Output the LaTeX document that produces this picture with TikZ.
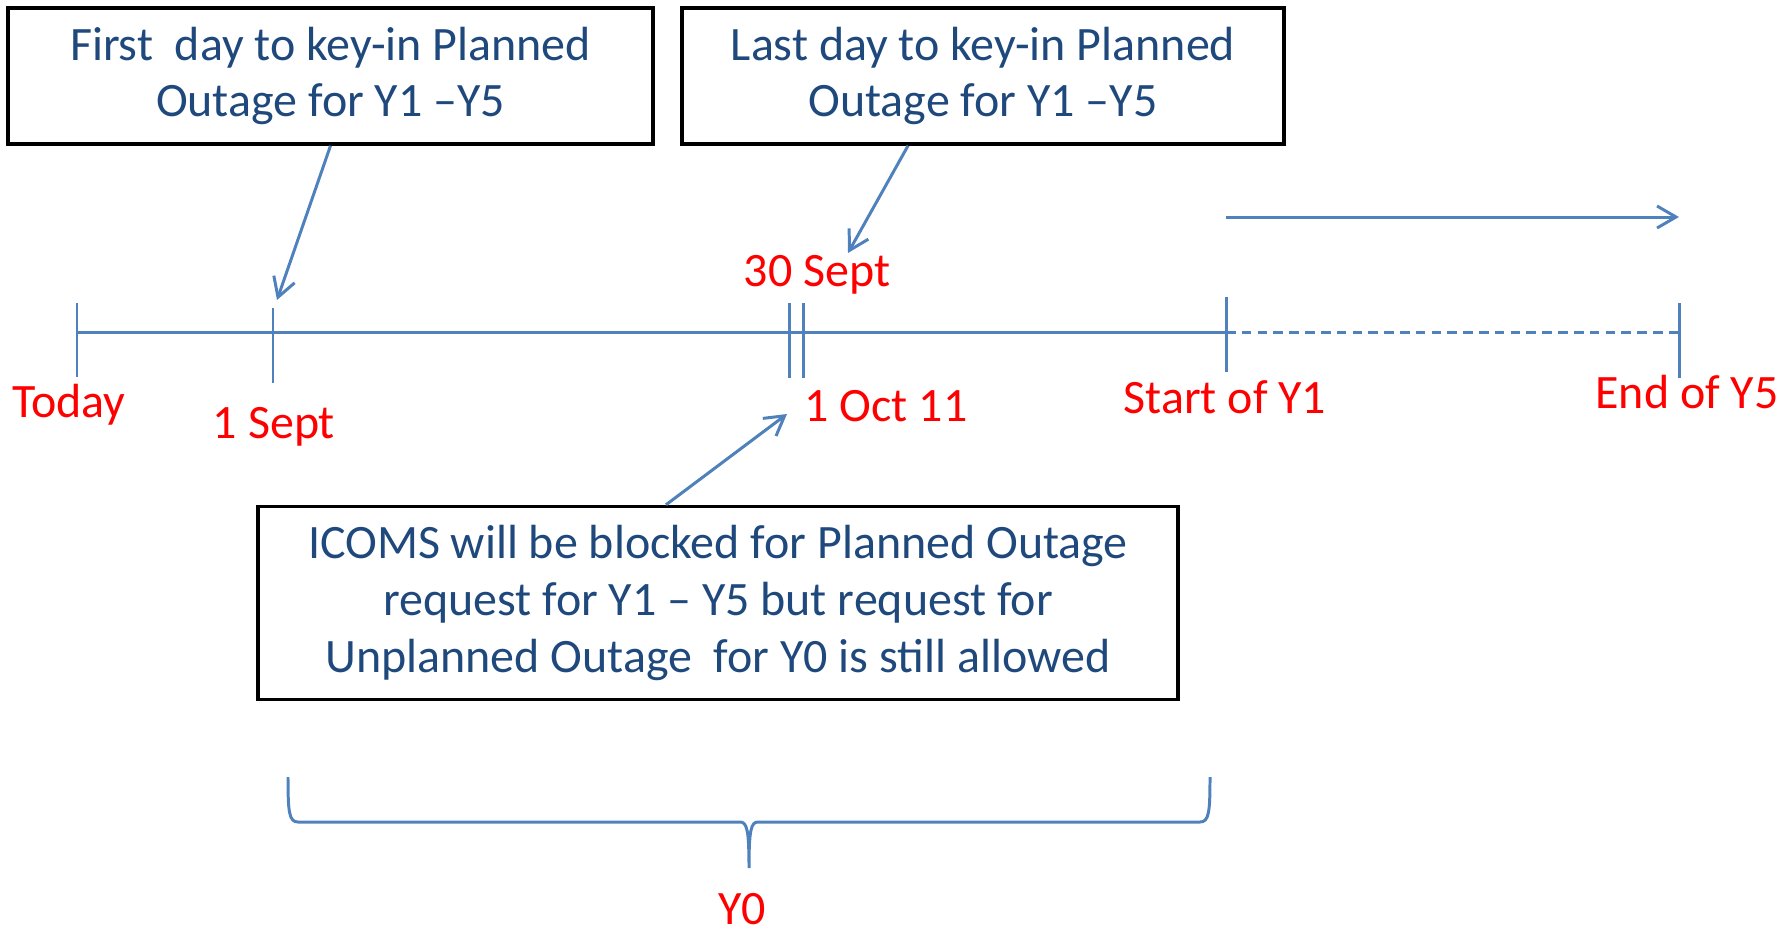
\documentclass[tikz,border=0pt]{standalone}
\usepackage{fontspec}
\setmainfont{Carlito}
\usetikzlibrary{arrows.meta,calc}

\definecolor{lineblue}{RGB}{79,129,189}
\definecolor{textblue}{RGB}{31,73,125}

\begin{document}
\begin{tikzpicture}[
    x=0.02cm, y=-0.02cm,
    note/.style={draw=black, line width=2pt, text=textblue, align=center, inner sep=0pt, font=\fontsize{27.3}{32.3}\selectfont},
    axis/.style={draw=lineblue, line width=1.7pt},
    pointer/.style={draw=lineblue, line width=1.7pt, -{Straight Barb[length=3.8mm,width=4.4mm]}},
    datelabel/.style={text=red, anchor=base, inner sep=0pt, font=\fontsize{27.3}{32.3}\selectfont}
]
\useasboundingbox (0,0) rectangle (1791,937);

% Define notes
\node[note, minimum width=12.9cm, minimum height=2.72cm] (first) at (330.5,76) {First\ \ day to key-in Planned\\Outage for Y1 --Y5};
\node[note, minimum width=12.04cm, minimum height=2.72cm] (last) at (983,76) {Last day to key-in Planned\\Outage for Y1 --Y5};
\node[note, minimum width=18.4cm, minimum height=3.86cm] (blocked) at (718,603) {ICOMS will be blocked for Planned Outage\\request for Y1 -- Y5 but request for\\Unplanned Outage\ \ for Y0 is still allowed};

% Define time points
\coordinate (today) at (77,332);
\coordinate (sept1) at (273,332);
\coordinate (sept30) at (789,332);
\coordinate (oct1) at (803,332);
\coordinate (starty1) at (1226,332);
\coordinate (endy5) at (1679,332);

% Time line and ticks
\draw[axis] (today) -- (starty1);
\draw[axis, dash pattern=on 5.5pt off 3.5pt] (starty1) -- (endy5);
\draw[axis] (77,303) -- (77,377);
\draw[axis] (273,308) -- (273,383);
\draw[axis] (789,303) -- (789,378);
\draw[axis] (803,303) -- (803,378);
\draw[axis] (1226,297) -- (1226,372);
\draw[axis] (1679,303) -- (1679,378);

% Date labels
\node[datelabel] (todaylbl) at (69,417) {Today};
\node[datelabel] (sept1lbl) at (274,438) {1 Sept};
\node[datelabel] (sept30lbl) at (817,286) {30 Sept};
\node[datelabel] (oct1lbl) at (886,421) {1 Oct 11};
\node[datelabel] (y1lbl) at (1225,413) {Start of Y1};
\node[datelabel] (y5lbl) at (1687,408) {End of Y5};

% Pointers from notes
\coordinate (firsttip) at (277,300);
\coordinate (lasttip) at (848,253);
\coordinate (blockedtip) at (787,414);
\draw[pointer] (first.south) -- (firsttip);
\draw[pointer] ($(last.south)+(-75,0)$) -- (lasttip);
\draw[pointer] ($(blocked.north)+(-52,0)$) -- (blockedtip);

% Forward arrow over Y1 to Y5
\coordinate (fwdstart) at (1226,217);
\coordinate (fwdend) at (1679,217);
\draw[pointer] (fwdstart) -- (fwdend);

% Brace for Y0
\draw[axis] (288,777) .. controls (288,812) and (289,822) .. (298,822) -- (740,822)
    .. controls (747,822) and (749,830) .. (749,868)
    .. controls (749,830) and (751,822) .. (758,822) -- (1200,822)
    .. controls (1209,822) and (1210,812) .. (1210,777);
\node[datelabel] (y0lbl) at (742,924) {Y0};

\end{tikzpicture}
\end{document}
